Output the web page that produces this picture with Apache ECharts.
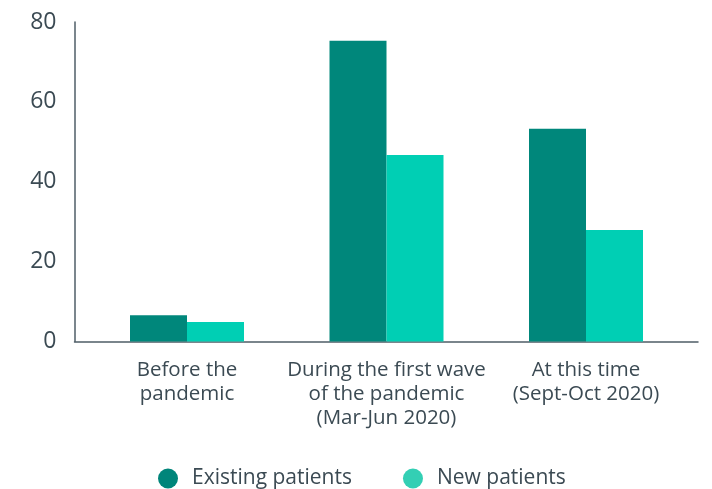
<!DOCTYPE html>
<html>
<head>
<meta charset="utf-8">
<script src="https://cdn.jsdelivr.net/npm/echarts@6/dist/echarts.min.js"></script>
<style>
html,body{margin:0;padding:0;background:#fff;}
#chart{width:712px;height:489px;}
</style>
</head>
<body>
<div id="chart"></div>
<script>
var categories = ['Before the\npandemic', 'During the first wave\nof the pandemic\n(Mar-Jun 2020)', 'At this time\n(Sept-Oct 2020)'];
var existingPatients = [6.6, 75.3, 53.3];
var newPatients = [4.9, 46.7, 27.9];
var seriesNames = ['Existing patients', 'New patients'];
var yTicks = [0, 20, 40, 60, 80];

var textColor = '#3b4a53';
var axisColor = '#4f5e67';
var font = 'Open Sans';

var chart = echarts.init(document.getElementById('chart'), null, {renderer: 'canvas'});
chart.setOption({
  animation: false,
  backgroundColor: '#ffffff',
  grid: [
    {left: 87.25, right: 26.25, top: 22, bottom: 147.5},
    {left: 74.5, right: 14, top: 22, bottom: 147.5}
  ],
  legend: {
    left: 153,
    top: 463,
    icon: 'circle',
    itemWidth: 20,
    itemHeight: 20,
    itemGap: 51,
    data: [
      {name: seriesNames[0], itemStyle: {color: '#00857a'}},
      {name: seriesNames[1], itemStyle: {color: '#33cfb4'}}
    ],
    textStyle: {color: textColor, fontSize: 21, fontFamily: font, padding: [0, 0, 0, 9]}
  },
  xAxis: [
    {
      type: 'category',
      gridIndex: 0,
      data: categories,
      axisLine: {show: false},
      axisTick: {show: false},
      axisLabel: {color: textColor, fontSize: 20.5, fontFamily: font, lineHeight: 24, margin: 17, interval: 0}
    },
    {
      type: 'value',
      gridIndex: 1,
      min: 0, max: 1,
      axisLine: {show: true, lineStyle: {color: axisColor, width: 1.5}},
      axisTick: {show: false},
      axisLabel: {show: false},
      splitLine: {show: false}
    }
  ],
  yAxis: [
    {
      type: 'value',
      gridIndex: 0,
      min: 0, max: 80, interval: 20,
      show: false,
      splitLine: {show: false}
    },
    {
      type: 'value',
      gridIndex: 1,
      min: yTicks[0], max: yTicks[yTicks.length - 1], interval: 20,
      axisLine: {show: true, lineStyle: {color: axisColor, width: 1.5}},
      axisTick: {show: false},
      splitLine: {show: false},
      axisLabel: {color: textColor, fontSize: 23, fontFamily: font, margin: 18}
    }
  ],
  series: [
    {
      name: seriesNames[0],
      type: 'bar',
      xAxisIndex: 0, yAxisIndex: 0,
      data: existingPatients,
      barWidth: 57,
      barGap: '0%',
      itemStyle: {color: '#00877b'},
      z: 3
    },
    {
      name: seriesNames[1],
      type: 'bar',
      xAxisIndex: 0, yAxisIndex: 0,
      data: newPatients,
      barWidth: 57,
      barGap: '0%',
      itemStyle: {color: '#00cfb4'},
      z: 3
    }
  ]
});
</script>
</body>
</html>
